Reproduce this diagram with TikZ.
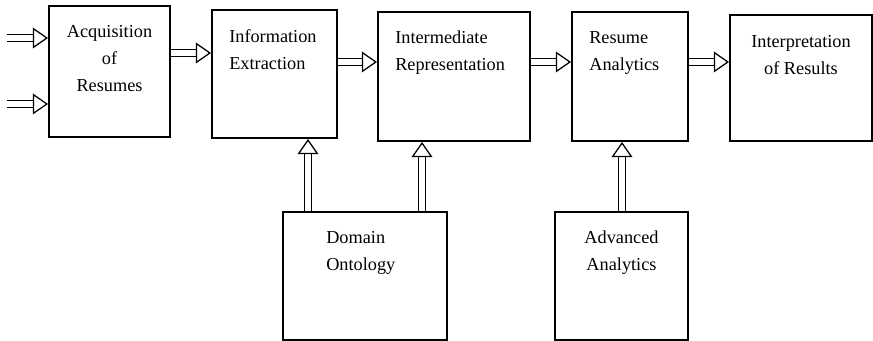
\documentclass[tikz,border=0pt]{standalone}
\usepackage{fontspec}
\setmainfont{Liberation Serif}
\usetikzlibrary{positioning,arrows.meta}

\tikzset{
    box/.style={draw, line width=1.4pt, inner sep=0pt},
    txt/.style={inner sep=0pt, font=\fontsize{13}{19.2}\selectfont},
    pipe/.style={double, double distance=0.15cm, line width=0.9pt,
        -{Triangle[open, length=0.38cm, width=0.52cm]}}
}

\begin{document}
\begin{tikzpicture}
    \useasboundingbox (0,0) rectangle (21.825,8.525);

    % top row
    \node[box, minimum width=3.025cm, minimum height=3.275cm] (acq) at (2.7375,6.7375) {};
    \node[box, minimum width=3.125cm, minimum height=3.2cm] (ie) at (6.8625,6.675) {};
    \node[box, minimum width=3.8cm, minimum height=3.225cm] (ir) at (11.35,6.6125) {};
    \node[box, minimum width=2.9cm, minimum height=3.225cm] (ra) at (15.75,6.6125) {};
    \node[box, minimum width=3.55cm, minimum height=3.15cm] (res) at (20.025,6.575) {};

    % bottom row
    \node[box, minimum width=4.1cm, minimum height=3.2cm] (dom) at (9.125,1.625) {};
    \node[box, minimum width=3.325cm, minimum height=3.2cm] (adv) at (15.5375,1.625) {};

    % texts
    \node[txt, align=center, below=0.5cm of acq.north] {Acquisition\\of\\Resumes};
    \node[txt, align=left, below right=0.52cm and 0.45cm of ie.north west] {Information\\Extraction};
    \node[txt, align=left, below right=0.5cm and 0.45cm of ir.north west] {Intermediate\\Representation};
    \node[txt, align=left, below right=0.5cm and 0.45cm of ra.north west] {Resume\\Analytics};
    \node[txt, align=center, below=0.52cm of res.north] {Interpretation\\of Results};
    \node[txt, align=left, below right=0.5cm and 1.1cm of dom.north west] {Domain\\Ontology};
    \node[txt, align=center, below=0.5cm of adv.north] {Advanced\\Analytics};

    % inputs
    \coordinate (in1) at (0.175,7.575);
    \coordinate (in2) at (0.175,5.925);
    \draw[pipe] (in1) -- (in1 -| acq.west);
    \draw[pipe] (in2) -- (in2 -| acq.west);

    % flow
    \draw[pipe] (acq.east |- 0,7.2) -- (ie.west |- 0,7.2);
    \draw[pipe] (ie.east |- 0,6.975) -- (ir.west |- 0,6.975);
    \draw[pipe] (ir.east |- 0,6.975) -- (ra.west |- 0,6.975);
    \draw[pipe] (ra.east |- 0,6.975) -- (res.west |- 0,6.975);

    % support
    \draw[pipe] (dom.north -| 7.7,0) -- (ie.south -| 7.7,0);
    \draw[pipe] (dom.north -| 10.55,0) -- (ir.south -| 10.55,0);
    \draw[pipe] (adv.north -| 15.55,0) -- (ra.south -| 15.55,0);
\end{tikzpicture}
\end{document}
